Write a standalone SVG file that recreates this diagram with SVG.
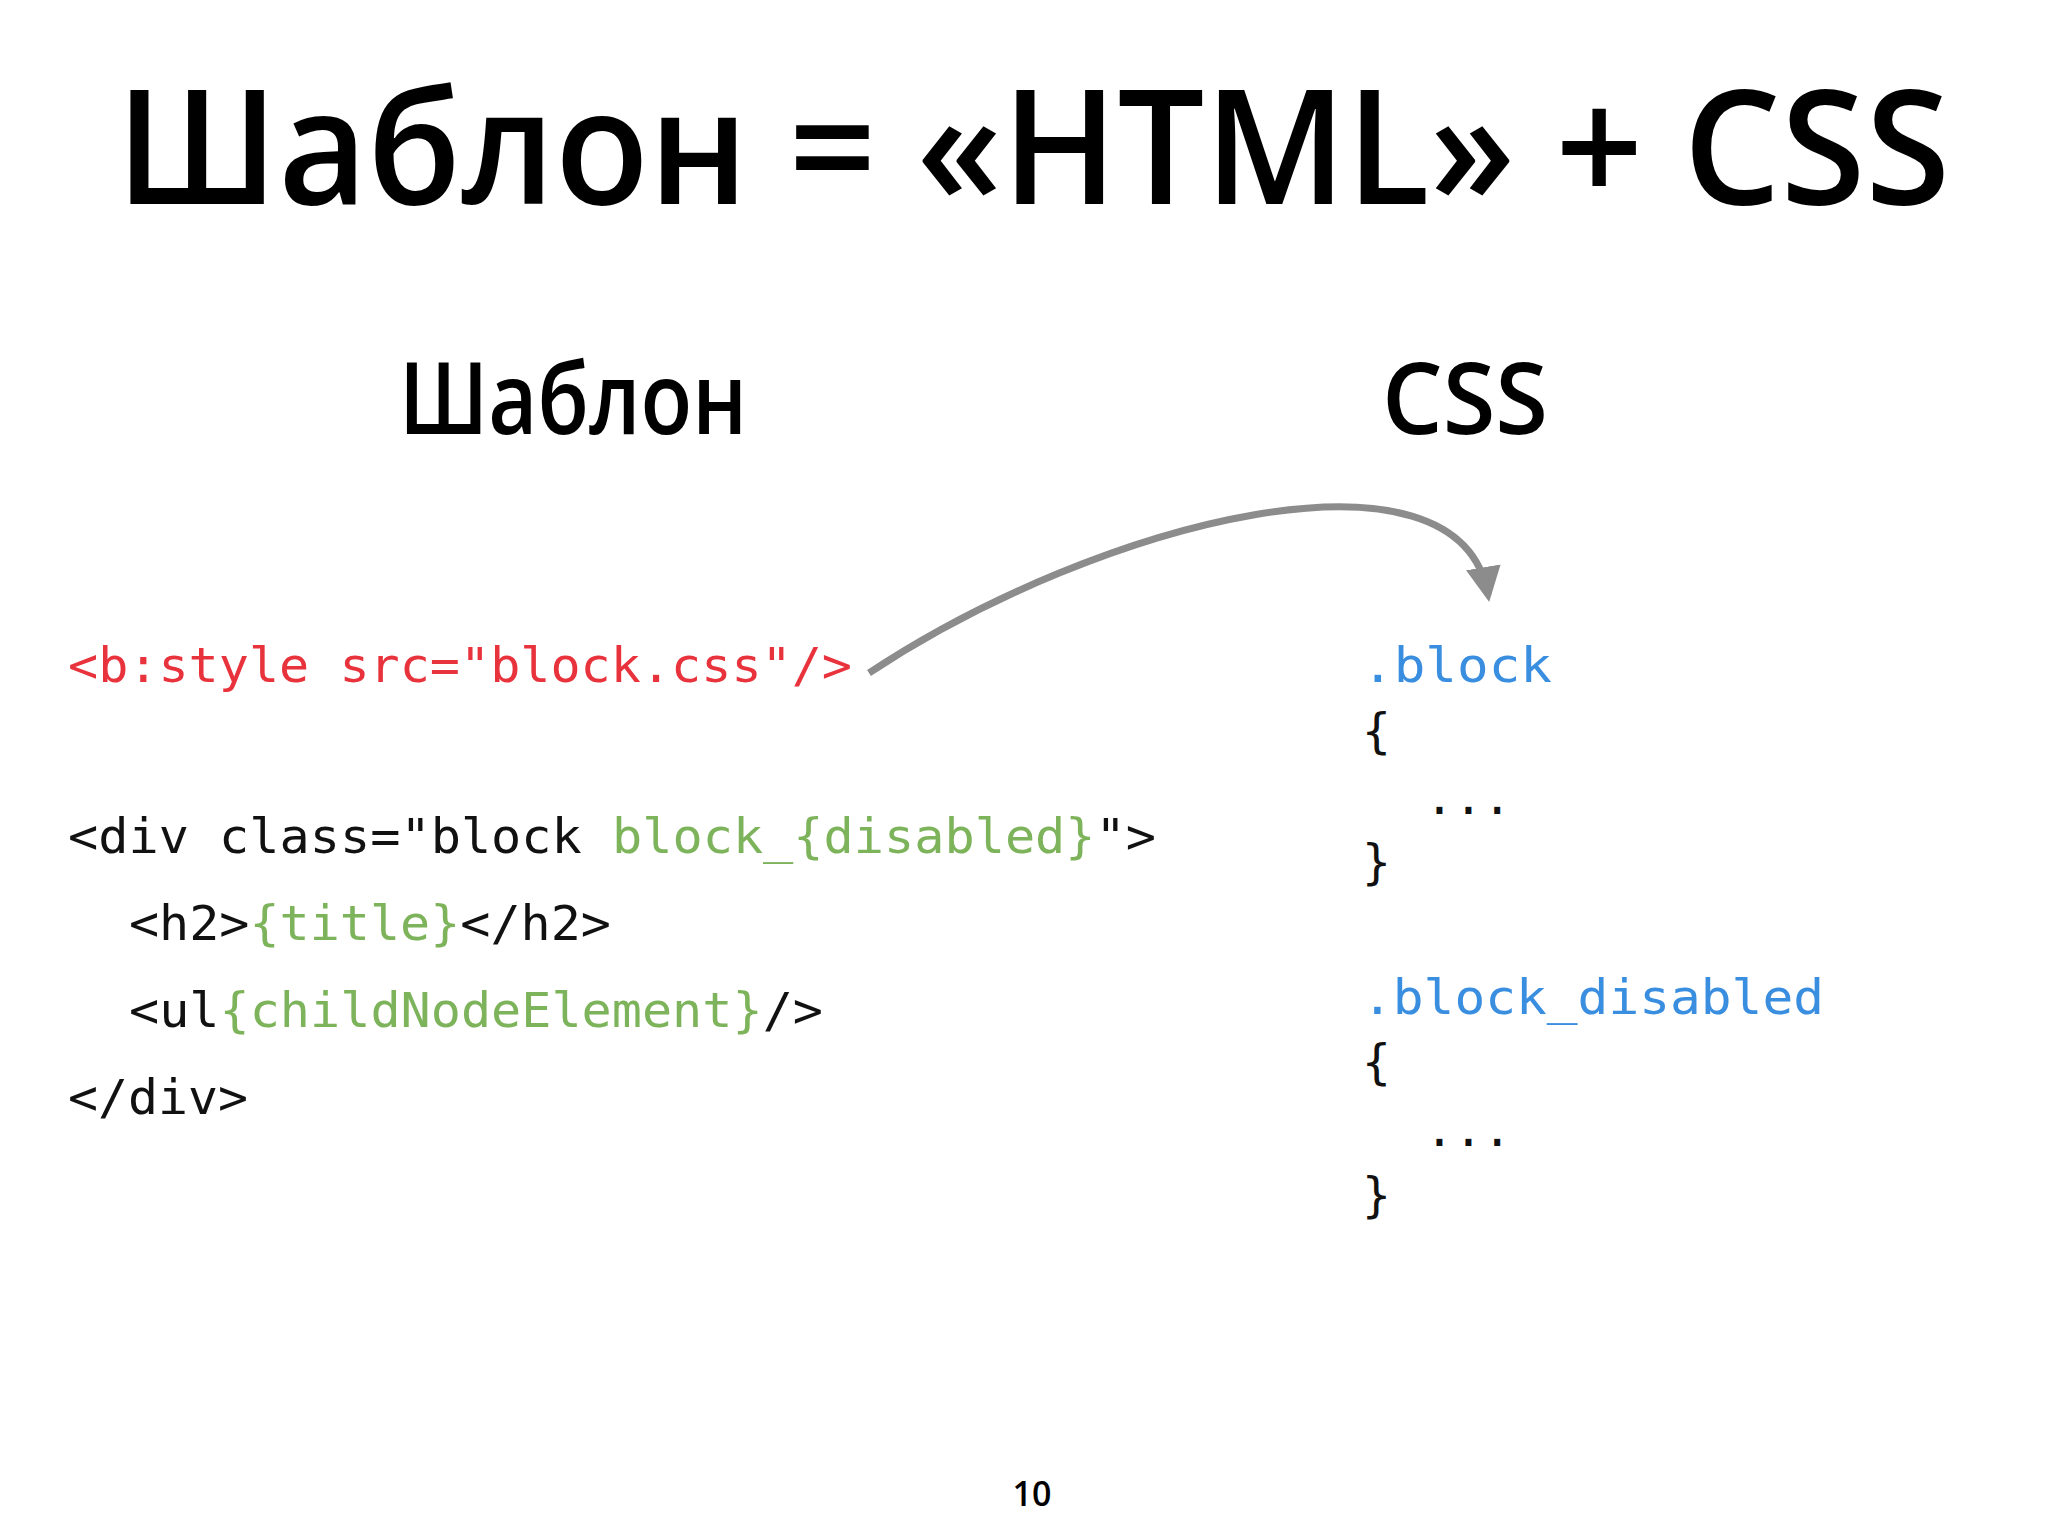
<svg xmlns="http://www.w3.org/2000/svg" width="2048" height="1536" viewBox="0 0 2048 1536">
<style>
.h{font-family:"Open Sans","Liberation Sans",sans-serif;fill:#000;font-weight:600}
.c{font-family:"DejaVu Sans Mono","Liberation Mono",monospace;font-size:48px;fill:#111}
.r{fill:#e8323c}.g{fill:#7db35a}.b{fill:#3a8ee0}
</style>
<defs><marker id="ah" viewBox="0 0 10 10" refX="8" refY="5" markerWidth="5" markerHeight="5" orient="auto" markerUnits="strokeWidth"><path d="M0,0 L10,5 L0,10 z" fill="#8c8c8c"/></marker></defs>
<rect width="2048" height="1536" fill="#fff"/>
<g id="title"><text class="h" x="116" y="204" font-size="160" textLength="1834" lengthAdjust="spacingAndGlyphs">Шаблон = «HTML» + CSS</text></g>
<g id="sub-template"><text class="h" x="399" y="434" font-size="100" textLength="348" lengthAdjust="spacingAndGlyphs">Шаблон</text></g>
<g id="sub-css"><text class="h" x="1382" y="434" font-size="100" textLength="166" lengthAdjust="spacingAndGlyphs">CSS</text></g>
<g id="template-code">
<text class="c r" x="68" y="682" textLength="784" lengthAdjust="spacingAndGlyphs">&lt;b:style src="block.css"/&gt;</text>
<text class="c" x="68" y="853" textLength="1088" lengthAdjust="spacingAndGlyphs">&lt;div class="block <tspan class="g">block_{disabled}</tspan>"&gt;</text>
<text class="c" x="129" y="940" textLength="482" lengthAdjust="spacingAndGlyphs">&lt;h2&gt;<tspan class="g">{title}</tspan>&lt;/h2&gt;</text>
<text class="c" x="129" y="1027" textLength="694" lengthAdjust="spacingAndGlyphs">&lt;ul<tspan class="g">{childNodeElement}</tspan>/&gt;</text>
<text class="c" x="68" y="1114" textLength="180" lengthAdjust="spacingAndGlyphs">&lt;/div&gt;</text>
</g>
<g id="css-code">
<text class="c b" x="1362" y="682" textLength="190" lengthAdjust="spacingAndGlyphs">.block</text>
<text class="c" x="1362" y="748">{</text>
<text class="c" x="1425" y="814">...</text>
<text class="c" x="1362" y="879">}</text>
<text class="c b" x="1362" y="1014" textLength="462" lengthAdjust="spacingAndGlyphs">.block_disabled</text>
<text class="c" x="1362" y="1079">{</text>
<text class="c" x="1425" y="1146">...</text>
<text class="c" x="1362" y="1212">}</text>
</g>
<g id="connectors"><path d="M869,673 C1100,520 1460,430 1488,595" fill="none" stroke="#8c8c8c" stroke-width="7" marker-end="url(#ah)"/></g>
<g id="page"><text class="h" x="1032" y="1506" font-size="34" text-anchor="middle">10</text></g>
</svg>
